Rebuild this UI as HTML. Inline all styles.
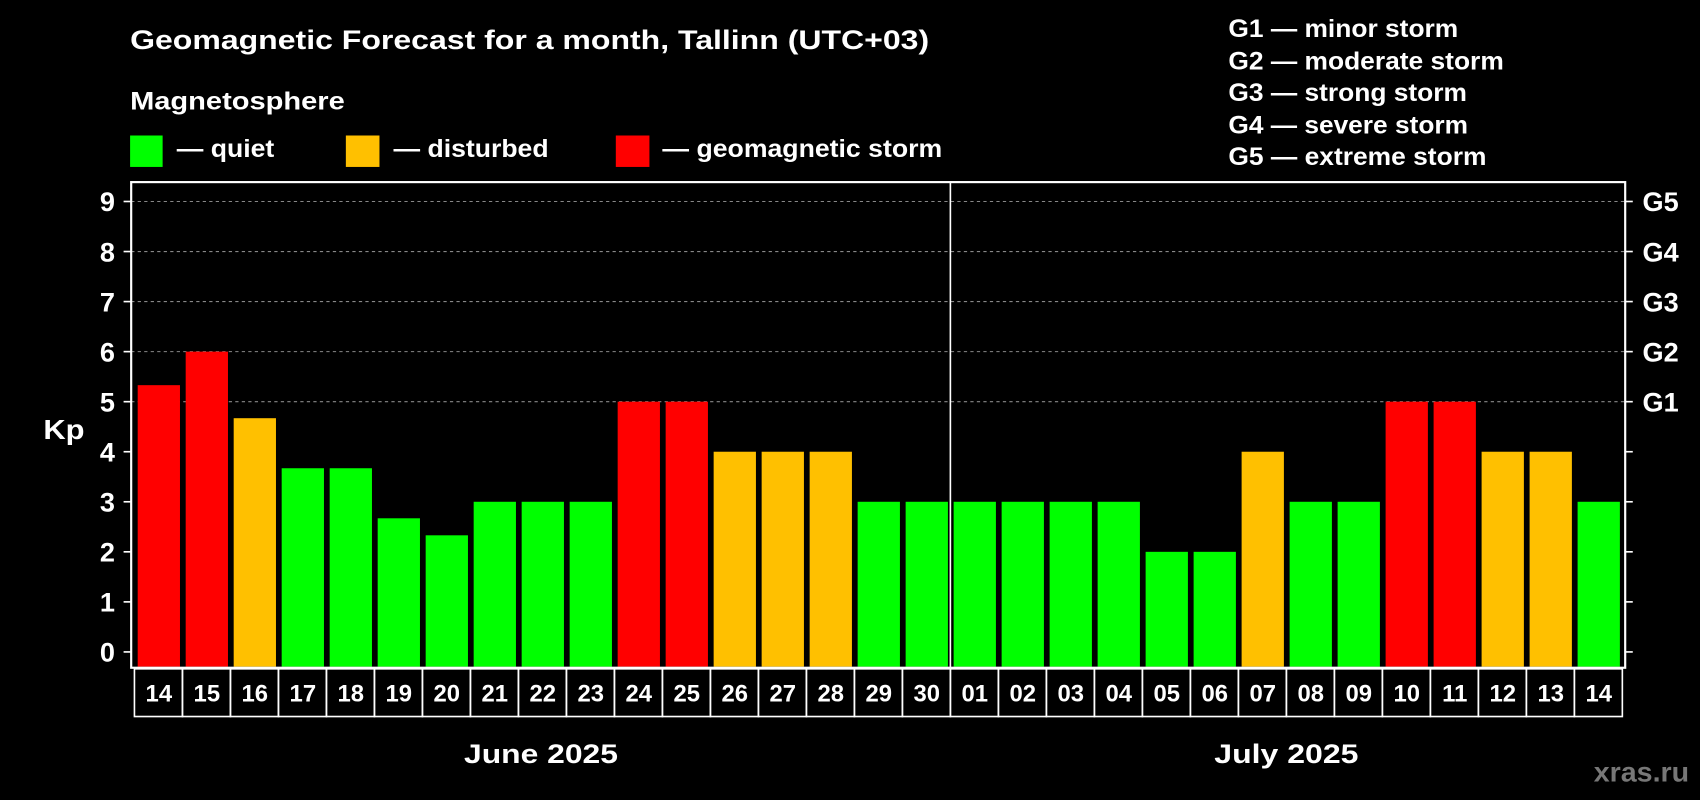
<!DOCTYPE html>
<html><head><meta charset="utf-8"><style>
body{margin:0;background:#000;width:1700px;height:800px;overflow:hidden}
svg{display:block;font-family:"Liberation Sans",sans-serif;font-weight:bold}
</style></head><body>
<svg id="c" width="1700" height="800" viewBox="0 0 1568 738" preserveAspectRatio="none">
<text x="120" y="45" fill="#fff" font-size="25" textLength="737" lengthAdjust="spacingAndGlyphs">Geomagnetic Forecast for a month, Tallinn (UTC+03)</text>
<text x="120" y="101" fill="#fff" font-size="23" textLength="198" lengthAdjust="spacingAndGlyphs">Magnetosphere</text>
<rect x="120" y="125" width="30" height="29" fill="#00ff00"/>
<text x="163" y="145" fill="#fff" font-size="23" textLength="90" lengthAdjust="spacingAndGlyphs">— quiet</text>
<rect x="319" y="125" width="31" height="29" fill="#ffc000"/>
<text x="363" y="145" fill="#fff" font-size="23" textLength="143" lengthAdjust="spacingAndGlyphs">— disturbed</text>
<rect x="568" y="125" width="31" height="29" fill="#ff0000"/>
<text x="611" y="145" fill="#fff" font-size="23" textLength="258" lengthAdjust="spacingAndGlyphs">— geomagnetic storm</text>
<g fill="#fff" font-size="23" lengthAdjust="spacingAndGlyphs">
<text x="1133" y="34" textLength="212" lengthAdjust="spacingAndGlyphs">G1 — minor storm</text>
<text x="1133" y="64" textLength="254" lengthAdjust="spacingAndGlyphs">G2 — moderate storm</text>
<text x="1133" y="93" textLength="220" lengthAdjust="spacingAndGlyphs">G3 — strong storm</text>
<text x="1133" y="123" textLength="221" lengthAdjust="spacingAndGlyphs">G4 — severe storm</text>
<text x="1133" y="152" textLength="238" lengthAdjust="spacingAndGlyphs">G5 — extreme storm</text>
</g>
<text x="40" y="405" fill="#fff" font-size="26" textLength="38" lengthAdjust="spacingAndGlyphs">Kp</text>
<text x="428" y="704" fill="#fff" font-size="25" textLength="142" lengthAdjust="spacingAndGlyphs">June 2025</text>
<text x="1120" y="704" fill="#fff" font-size="25" textLength="133" lengthAdjust="spacingAndGlyphs">July 2025</text>
<text x="1470" y="721" fill="#777" font-size="26" textLength="88" lengthAdjust="spacingAndGlyphs">xras.ru</text>
<g id="plot"></g>
</svg>
<script>
const days=["14","15","16","17","18","19","20","21","22","23","24","25","26","27","28","29","30","01","02","03","04","05","06","07","08","09","10","11","12","13","14"];
const kp=[5.33,6,4.67,3.67,3.67,2.67,2.33,3,3,3,5,5,4,4,4,3,3,3,3,3,3,2,2,4,3,3,5,5,4,4,3];
const yTicks=[0,1,2,3,4,5,6,7,8,9];
const gLabels=["","","","","","G1","G2","G3","G4","G5"];
const NS="http://www.w3.org/2000/svg";
const g=document.getElementById('plot');
const L=121,R=1499,T=168,B=616,y0=601.4,unit=46.17,x0=127,step=44.27,bw=39;
const y=v=>y0-v*unit, x=i=>x0+i*step;
function mk(t,a){const e=document.createElementNS(NS,t);for(const k in a)e.setAttribute(k,a[k]);g.appendChild(e);return e;}
yTicks.forEach((v,i)=>{
 if(v>=5){const l=mk('line',{x1:L,x2:R,y1:y(v),y2:y(v),stroke:'#888','stroke-dasharray':'3,3','stroke-width':1});
 
 }
 mk('line',{x1:L-7,x2:L,y1:y(v),y2:y(v),stroke:'#fff','stroke-width':1.5});
 mk('line',{x1:R,x2:R+7,y1:y(v),y2:y(v),stroke:'#fff','stroke-width':1.5});
 const t=mk('text',{x:106,y:y(v)+9,fill:'#fff','font-size':25,'text-anchor':'end'});t.textContent=v;
 
 
 if(gLabels[i]){const s=mk('text',{x:1515,y:y(v)+9,fill:'#fff','font-size':25});s.textContent=gLabels[i];
 
 }
});
kp.forEach((v,i)=>{
 const c=v>=5?'#ff0000':(v>=4?'#ffc000':'#00ff00');
 const b=mk('rect',{x:x(i),y:y(v),width:bw,height:B-1-y(v),fill:c});
 
 
 mk('rect',{x:x(i)-3,y:B+1,width:step,height:44,fill:'none',stroke:'#fff','stroke-width':1.5});
 const t=mk('text',{x:x(i)+bw/2,y:B+31,fill:'#fff','font-size':22,'text-anchor':'middle'});t.textContent=days[i];
 
 
});
const fr=mk('rect',{x:L,y:T,width:R-L,height:B-T,fill:'none',stroke:'#fff','stroke-width':2});


const dv=mk('line',{x1:x(17)-3,x2:x(17)-3,y1:T,y2:B,stroke:'#fff','stroke-width':1.5});


</script>
</body></html>
